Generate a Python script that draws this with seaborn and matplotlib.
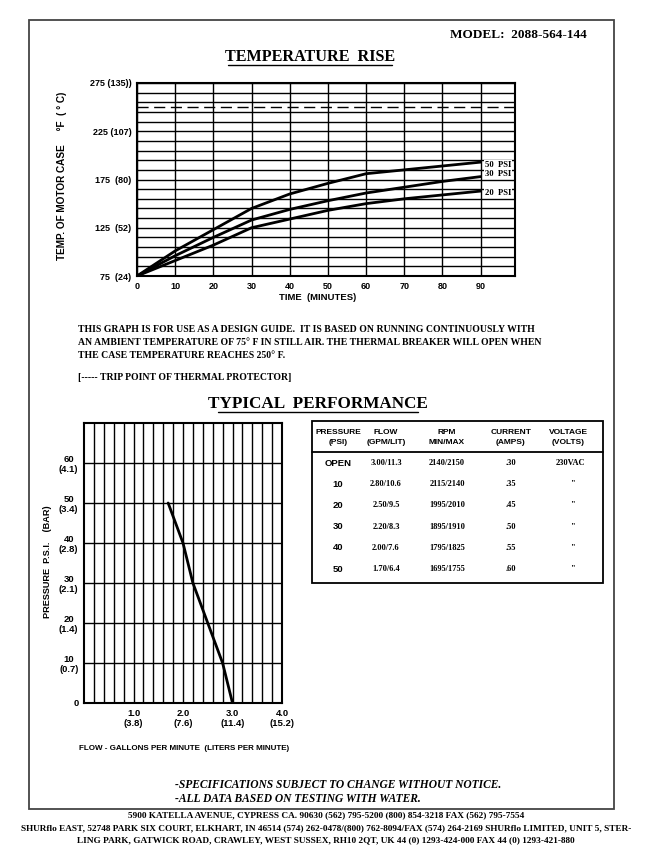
import numpy as np
import pandas as pd
import matplotlib
matplotlib.use("Agg")
import matplotlib.pyplot as plt
from matplotlib.patches import Rectangle
import seaborn as sns

sns.set_style("white")
plt.rcParams['font.family'] = ['Liberation Sans', 'DejaVu Sans']
plt.rcParams.update({'text.color': 'k', 'axes.labelcolor': 'k', 'xtick.color': 'k', 'ytick.color': 'k'})

W, H = 652, 859
SERIF = 'Liberation Serif'

# temperature rise (deg F) vs time
minutes = [0, 10, 20, 30, 40, 50, 60, 70, 80, 90]
temp_50psi = [75, 101, 123, 145, 160, 171, 181, 185, 189, 193]
temp_30psi = [75, 96, 115, 133, 144, 153, 161, 167, 173, 178]
temp_20psi = [75, 91, 107, 125, 134, 143, 150, 155, 159, 163]
temp_ticks = [75, 125, 175, 225, 275]
temp_ticklabels = ['75  (24)', '125  (52)', '175  (80)', '225 (107)', '275 (135))']
trip_point = 250

# typical performance table
pressure_labels = ['OPEN', '10', '20', '30', '40', '50']
pressure_psi = [0, 10, 20, 30, 40, 50]
flow_gpm = [3.00, 2.80, 2.50, 2.20, 2.00, 1.70]
flow_lit = [11.3, 10.6, 9.5, 8.3, 7.6, 6.4]
rpm = ['2140/2150', '2115/2140', '1995/2010', '1895/1910', '1795/1825', '1695/1755']
current = ['.30', '.35', '.45', '.50', '.55', '.60']
voltage = ['230VAC', '"', '"', '"', '"', '"']

psi_ticks = [0, 10, 20, 30, 40, 50, 60]
psi_ticklabels = ['0', '10\n(0.7)', '20\n(1.4)', '30\n(2.1)', '40\n(2.8)', '50\n(3.4)', '60\n(4.1)']
gpm_ticks = [1.0, 2.0, 3.0, 4.0]
gpm_ticklabels = ['1.0\n(3.8)', '2.0\n(7.6)', '3.0\n(11.4)', '4.0\n(15.2)']


def rect(l, t, r, b):
    return [l / W, 1 - b / H, (r - l) / W, (b - t) / H]


def style_axes(ax, size):
    ax.grid(True, which='both', color='k', lw=1)
    ax.tick_params(which='both', length=0, labelsize=size, pad=4)
    for lab in ax.get_xticklabels() + ax.get_yticklabels():
        lab.set_fontweight('bold')
    for s in ax.spines.values():
        s.set_color('k')
        s.set_linewidth(1.5)


fig = plt.figure(figsize=(W / 100, H / 100), dpi=100)

# ---- temperature rise chart
ax1 = fig.add_axes(rect(137, 83, 515, 276))
for temps in (temp_50psi, temp_30psi, temp_20psi):
    sns.lineplot(x=minutes, y=temps, ax=ax1, color='k', lw=2)
ax1.axhline(trip_point, color='k', lw=1, ls=(0, (8, 4)), zorder=1)
ax1.set_xlim(0, 99)
ax1.set_ylim(75, 275)
ax1.set_xticks(minutes)
ax1.set_xticklabels([str(m) for m in minutes])
ax1.set_yticks(temp_ticks)
ax1.set_yticklabels(temp_ticklabels)
ax1.set_yticks(np.arange(85, 275, 10), minor=True)
style_axes(ax1, 6.5)
for lbl, yv in (('50  PSI', 190), ('30  PSI', 181), ('20  PSI', 161)):
    ax1.text(91.2, yv, lbl, fontsize=6.2, fontweight='bold', family=SERIF, va='center', ha='left',
             bbox=dict(facecolor='white', edgecolor='none', pad=0.6), zorder=5)

# ---- pressure vs flow chart
ax2 = fig.add_axes(rect(84, 423, 282, 703))
sns.lineplot(x=flow_gpm, y=pressure_psi, ax=ax2, color='k', lw=2, sort=False)
ax2.set_xlim(0, 4)
ax2.set_ylim(0, 70)
ax2.set_xticks(gpm_ticks)
ax2.set_xticklabels(gpm_ticklabels)
ax2.set_xticks(np.arange(0.2, 4.0, 0.2), minor=True)
ax2.set_yticks(psi_ticks)
ax2.set_yticklabels(psi_ticklabels, multialignment='center')
style_axes(ax2, 6.8)

# ---- overlay for page text, table and borders
ov = fig.add_axes([0, 0, 1, 1])
ov.set_xlim(0, W)
ov.set_ylim(H, 0)
ov.axis('off')
ov.add_patch(Rectangle((29, 20), 585, 789, fill=False, ec='#444444', lw=1.3))

# axis titles
ov.text(318, 298, 'TIME  (MINUTES)', fontsize=6.8, fontweight='bold', ha='center', va='center')
ov.text(62, 176, 'TEMP. OF MOTOR CASE     °F  ( ° C)', fontsize=7.2, fontweight='bold',
        rotation=90, ha='center', va='center')
ov.text(184, 748, 'FLOW - GALLONS PER MINUTE  (LITERS PER MINUTE)', fontsize=5.8, fontweight='bold',
        ha='center', va='center')
ov.text(47, 562, 'PRESSURE  P.S.I.    (BAR)', fontsize=6.6, fontweight='bold',
        rotation=90, ha='center', va='center')

ov.text(587, 35, 'MODEL:  2088-564-144', family=SERIF, fontweight='bold', fontsize=9.5, ha='right', va='center')
ov.text(310, 57, 'TEMPERATURE  RISE', family=SERIF, fontweight='bold', fontsize=11.6, ha='center', va='center')
ov.plot([228, 392], [65, 65], color='k', lw=1)
ov.text(318, 404, 'TYPICAL  PERFORMANCE', family=SERIF, fontweight='bold', fontsize=12.3, ha='center', va='center')
ov.plot([218, 418], [412, 412], color='k', lw=1)

para = ['THIS GRAPH IS FOR USE AS A DESIGN GUIDE.  IT IS BASED ON RUNNING CONTINUOUSLY WITH',
        'AN AMBIENT TEMPERATURE OF 75° F IN STILL AIR. THE THERMAL BREAKER WILL OPEN WHEN',
        'THE CASE TEMPERATURE REACHES 250° F.']
for i, line in enumerate(para):
    ov.text(78, 330 + 12.5 * i, line, family=SERIF, fontweight='bold', fontsize=7.05, ha='left', va='center')
ov.text(78, 378, '[----- TRIP POINT OF THERMAL PROTECTOR]', family=SERIF, fontweight='bold', fontsize=7.05,
        ha='left', va='center')

# table
ov.add_patch(Rectangle((312, 421), 291, 162, fill=False, ec='k', lw=1.3))
ov.plot([312, 603], [452, 452], color='k', lw=1.3)
cols = [338, 386, 447, 511, 568]
heads = [('PRESSURE', '(PSI)'), ('FLOW', '(GPM/LIT)'), ('RPM', 'MIN/MAX'), ('CURRENT', '(AMPS)'), ('VOLTAGE', '(VOLTS)')]
for cx, (h1, h2) in zip(cols, heads):
    ov.text(cx, 432, h1, fontsize=6, fontweight='bold', ha='center', va='center')
    ov.text(cx, 442, h2, fontsize=6, fontweight='bold', ha='center', va='center')
for i in range(len(pressure_labels)):
    y = 463 + 21.2 * i
    ov.text(cols[0], y, pressure_labels[i], fontsize=6.8, fontweight='bold', ha='center', va='center')
    ov.text(cols[1], y, f'{flow_gpm[i]:.2f}/{flow_lit[i]}', family=SERIF, fontsize=6, fontweight='bold',
            ha='center', va='center')
    ov.text(cols[2], y, rpm[i], family=SERIF, fontsize=6, fontweight='bold', ha='center', va='center')
    ov.text(cols[3], y, current[i], family=SERIF, fontsize=6, fontweight='bold', ha='center', va='center')
    ov.text(cols[4] + (2 if i == 0 else 4), y, voltage[i], family=SERIF, fontsize=6, fontweight='bold',
            ha='center', va='center')

ov.text(175, 785, '-SPECIFICATIONS SUBJECT TO CHANGE WITHOUT NOTICE.', family=SERIF, fontweight='bold',
        style='italic', fontsize=8.3, ha='left', va='center')
ov.text(175, 799, '-ALL DATA BASED ON TESTING WITH WATER.', family=SERIF, fontweight='bold',
        style='italic', fontsize=8.3, ha='left', va='center')

addr = ['5900 KATELLA AVENUE, CYPRESS CA. 90630 (562) 795-5200 (800) 854-3218 FAX (562) 795-7554',
        'SHURflo EAST, 52748 PARK SIX COURT, ELKHART, IN 46514 (574) 262-0478/(800) 762-8094/FAX (574) 264-2169 SHURflo LIMITED, UNIT 5, STER-',
        'LING PARK, GATWICK ROAD, CRAWLEY, WEST SUSSEX, RH10 2QT, UK 44 (0) 1293-424-000 FAX 44 (0) 1293-421-880']
for i, line in enumerate(addr):
    ov.text(326, 815 + 12.8 * i, line, family=SERIF, fontweight='bold', fontsize=6.7, ha='center', va='center')

fig.savefig('out.png', dpi=100)
